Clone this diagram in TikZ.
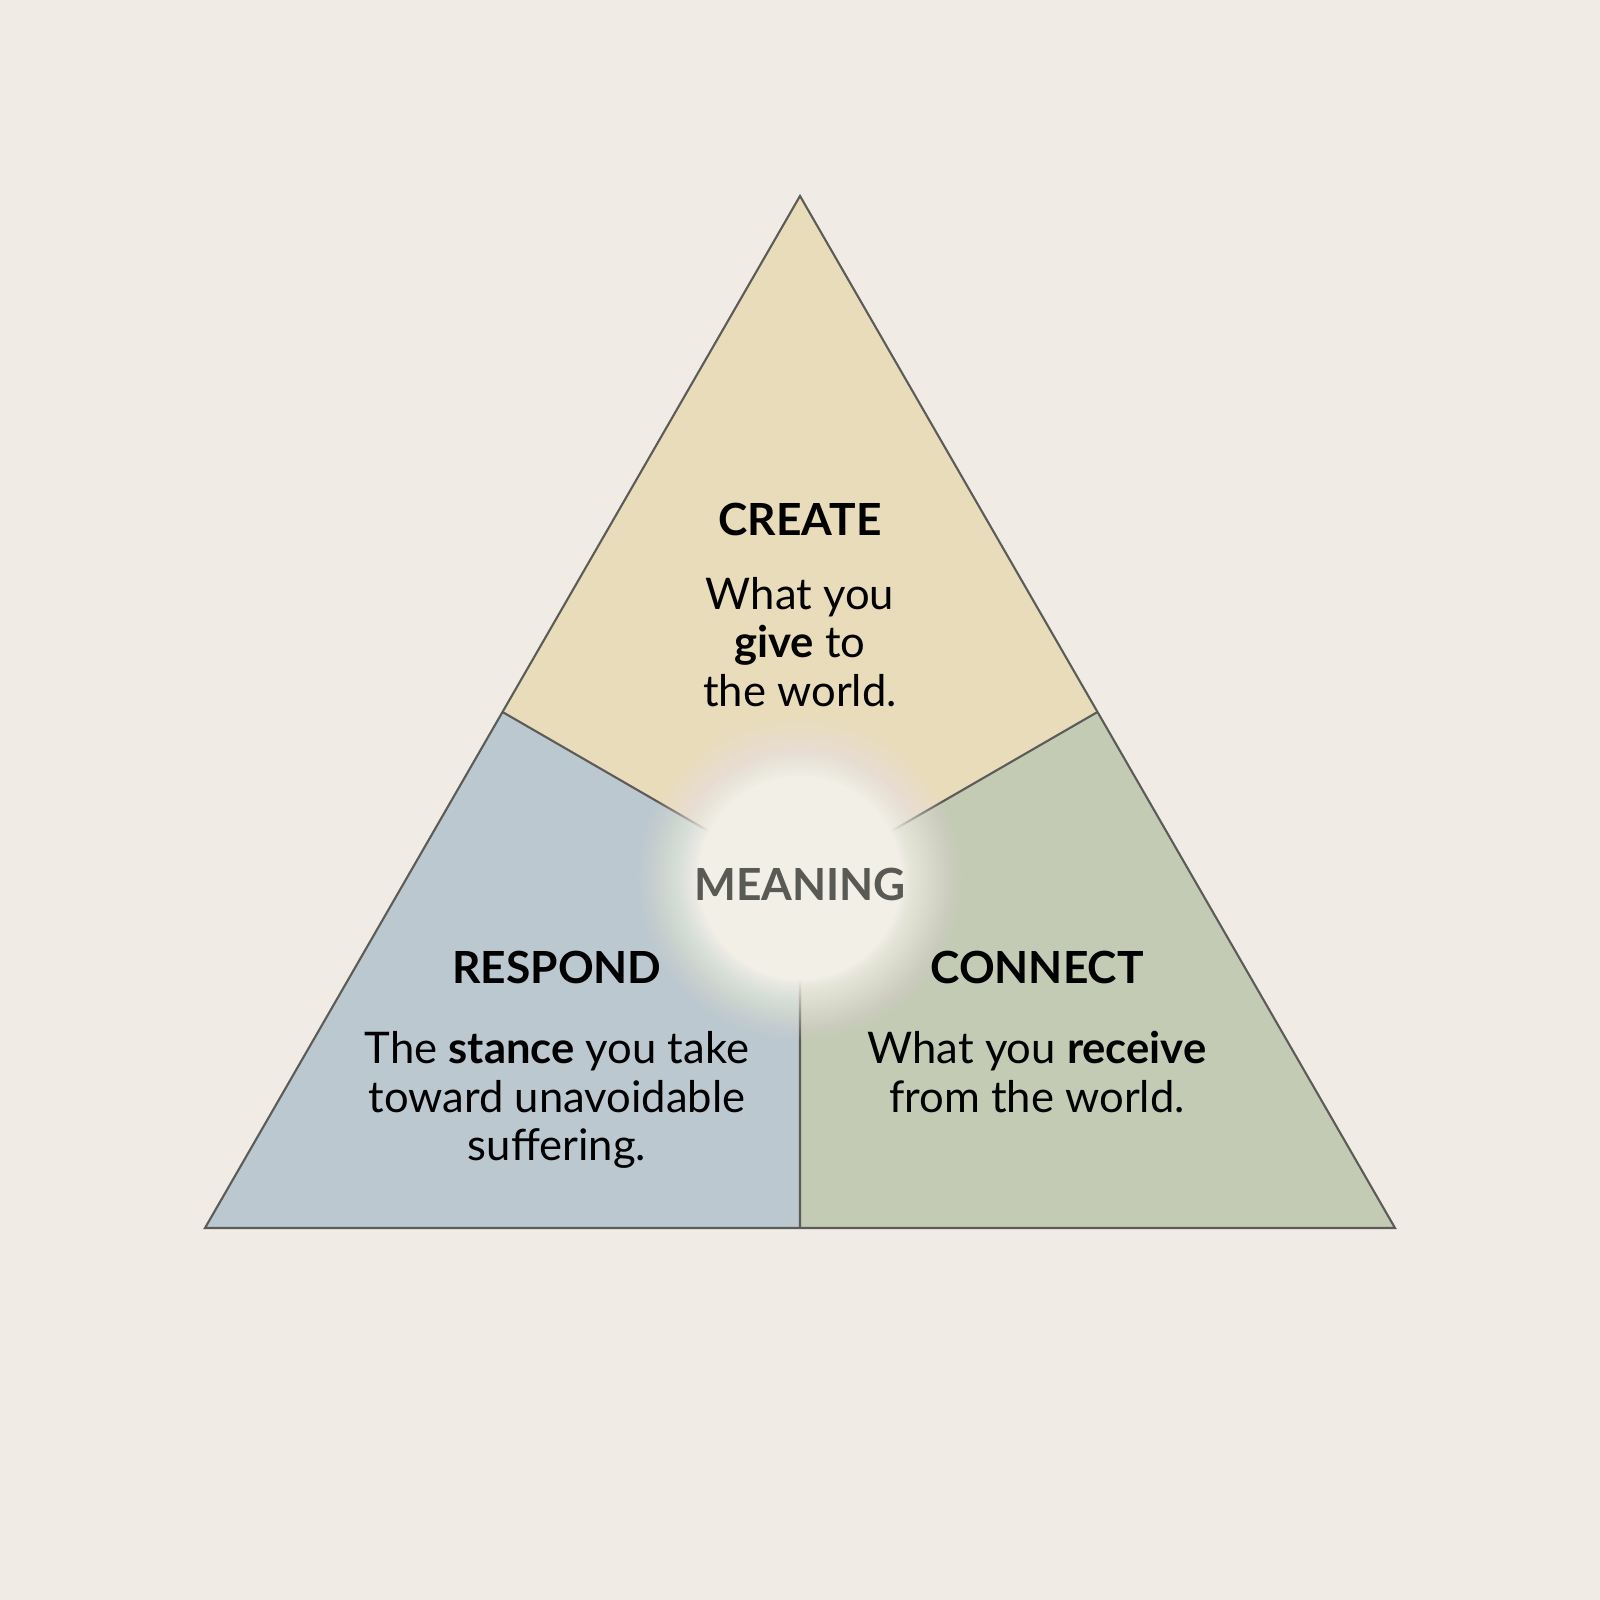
\documentclass[tikz,border=0pt]{standalone}
\usepackage{fontspec}
\setmainfont{Lato}
\usetikzlibrary{calc, positioning}

\definecolor{paper}{HTML}{F0ECE5}
\definecolor{createfill}{HTML}{E8DCBB}
\definecolor{respondfill}{HTML}{BCC8CF}
\definecolor{connectfill}{HTML}{C3CBB5}
\definecolor{edgegray}{HTML}{5C5B58}
\definecolor{meaninggray}{HTML}{5A5A55}
\definecolor{glowcream}{HTML}{F2EFE7}

\tikzset{
  title/.style={font=\fontsize{12.6}{15}\selectfont\bfseries},
  body/.style={font=\fontsize{12.4}{13.7}\selectfont, align=center},
  edge/.style={draw=edgegray, line width=0.6pt, line join=miter}
}

\begin{document}
\begin{tikzpicture}
  \fill [paper] (0,0) rectangle (16,16);
  \useasboundingbox (0,0) rectangle (16,16);
  % corners and midpoints
  \coordinate (top) at (8,14.04);
  \coordinate (bl) at (2.05,3.72);
  \coordinate (br) at (13.95,3.72);
  \coordinate (ml) at ($(top)!0.5!(bl)$);
  \coordinate (mr) at ($(top)!0.5!(br)$);
  \coordinate (mb) at ($(bl)!0.5!(br)$);
  \coordinate (ctr) at (8,7.16);
  \coordinate (glow) at (8,7.22);
  % the three parts
  \fill [createfill] (top) -- (mr) -- (ctr) -- (ml) -- cycle;
  \fill [respondfill] (ml) -- (ctr) -- (mb) -- (bl) -- cycle;
  \fill [connectfill] (mr) -- (br) -- (mb) -- (ctr) -- cycle;
  \draw [edge] (ml) -- (ctr);
  \draw [edge] (mr) -- (ctr);
  \draw [edge] (mb) -- (ctr);
  % soft glow, outside in
  \foreach \k [evaluate=\k as \op using 1/(41-\k),
               evaluate=\k as \rad using 1.62-(\k-1)*0.60/39] in {1,...,40}
    \fill [glowcream, opacity=\op] (glow) circle [radius=\rad];
  \draw [edge] (top) -- (br) -- (bl) -- cycle;
  \node (meaning) at (8,7.15) [title, text=meaninggray] {MEANING};
  \node (create) at (8,10.80) [title] {CREATE};
  \node (createtxt) at (8,9.58) [body] {What you\\\textbf{give} to\\the world.};
  \node (respond) at (5.57,6.32) [title] {RESPOND};
  \node (respondtxt) at (5.57,5.00) [body] {The \textbf{stance} you take\\toward unavoidable\\suffering.};
  \node (connect) at (10.37,6.32) [title] {CONNECT};
  \node (connecttxt) at (10.37,5.28) [body] {What you \textbf{receive}\\from the world.};
\end{tikzpicture}
\end{document}
